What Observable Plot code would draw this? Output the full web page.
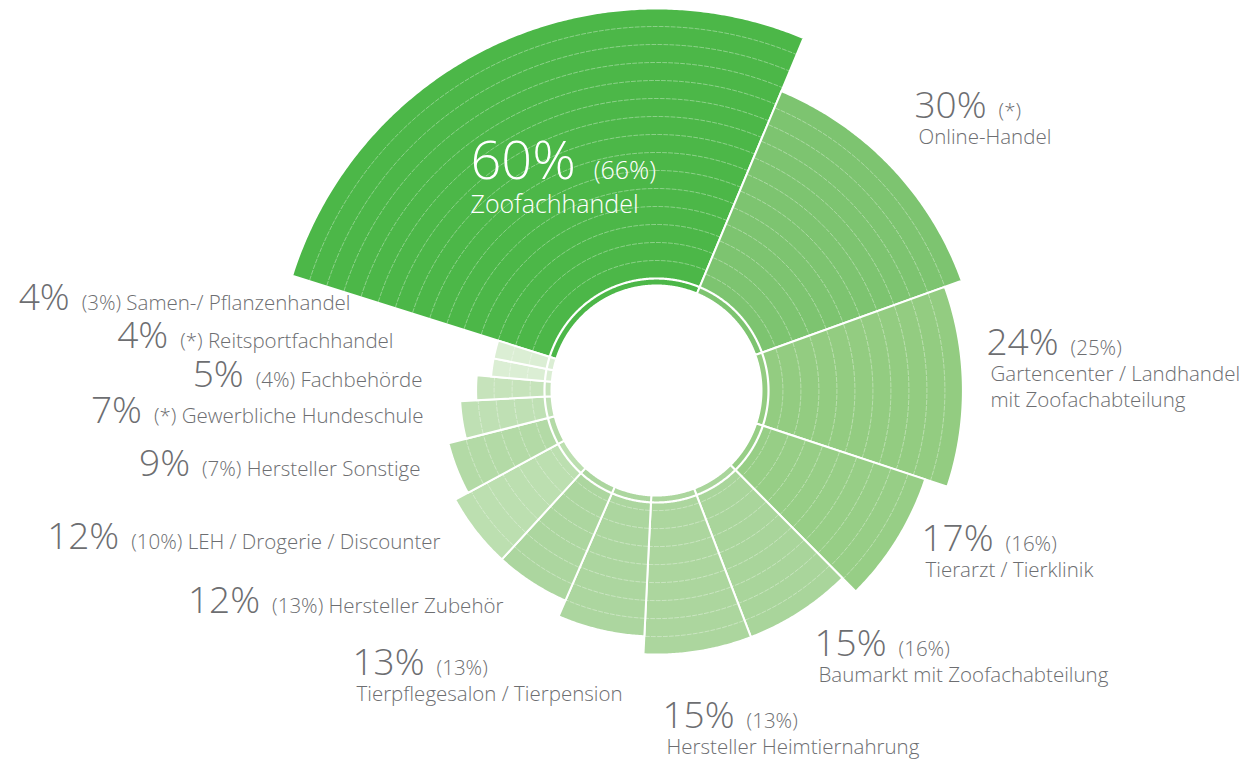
<!DOCTYPE html>
<html><head><meta charset="utf-8">
<script src="https://cdn.jsdelivr.net/npm/d3@7"></script>
<script src="https://cdn.jsdelivr.net/npm/@observablehq/plot@0.6"></script>
<style>
html,body{margin:0;padding:0;background:#fff;}
#chart svg{display:block;}
</style></head><body><div id="chart"></div>
<script>
// ---- data (clockwise, starting with the largest channel) ----
const categories = ["Zoofachhandel","Online-Handel","Gartencenter / Landhandel\nmit Zoofachabteilung","Tierarzt / Tierklinik","Baumarkt mit Zoofachabteilung","Hersteller Heimtiernahrung","Tierpflegesalon / Tierpension","Hersteller Zubehör","LEH / Drogerie / Discounter","Hersteller Sonstige","Gewerbliche Hundeschule","Fachbehörde","Reitsportfachhandel","Samen-/ Pflanzenhandel"];
const shares = [60,30,24,17,15,15,13,12,12,9,7,5,4,4];          // current share, %
const previous = ["66%","*","25%","16%","16%","13%","13%","13%","10%","7%","*","4%","*","3%"]; // value in brackets
const barLength = [15,11.8,10.8,9.5,8.45,8.45,7.45,6.5,6.5,5.7,4.7,3.8,3,3]; // radial length of each sector, in ring units
const palette = ["#4cb748","#7dc470","#93cc81","#97ce86","#a9d59b","#acd69e","#acd69f","#acd69f","#bcdfb0","#b3daa6","#bfe0b4","#c6e3bb","#dbeed4","#dbeed4"];

// ---- layout (pixels) ----
const W = 1255, H = 760, CX = 656, CY = 390;
const START = -72.5;          // angle of first sector edge, degrees clockwise from top
const R_HOLE = 105, R_GAP = 112, R_BASE = 112, RING = 18;
const total = d3.sum(shares);
const rad = d => d * Math.PI / 180;
const polar = (r, a) => ({x: r * Math.sin(rad(a)), y: r * Math.cos(rad(a))});

let cum = 0;
const sectors = categories.map((cat, i) => {
  const a0 = START + cum / total * 360;
  cum += shares[i];
  const a1 = START + cum / total * 360;
  return {cat, i, a0, a1, rOuter: R_BASE + barLength[i] * RING};
});

function arcPts(r, a0, a1) {
  const n = Math.max(2, Math.ceil(Math.abs(a1 - a0) / 0.4));
  return d3.range(n + 1).map(k => polar(r, a0 + (a1 - a0) * k / n));
}
const polys = sectors.flatMap(s => [...arcPts(s.rOuter, s.a0, s.a1), ...arcPts(R_HOLE, s.a1, s.a0)].map(p => ({...p, cat: s.cat})));
const rings = sectors.flatMap(s => {
  const out = [];
  for (let r = s.rOuter - RING, k = 0; r > R_GAP + 5; r -= RING, k++) {
    const pad = 1.2 / r * 180 / Math.PI;
    arcPts(r, s.a0 + pad, s.a1 - pad).forEach(p => out.push({...p, id: s.cat + k}));
  }
  return out;
});
const gapRing = arcPts(R_GAP, 0, 360);

// ---- labels: line 1 = big share + small bracket (+ name if single-line), further lines = name ----
const labelLayout = [
  {x: 470, y: 178, anchor: "start", big: 54, small: 25, lead: 34, color: "#ffffff", inline: false},
  {x: 914, y: 117, anchor: "start", inline: false},
  {x: 986, y: 354, anchor: "start", inline: false},
  {x: 921, y: 550, anchor: "start", inline: false},
  {x: 814, y: 655, anchor: "start", inline: false},
  {x: 662, y: 727, anchor: "start", inline: false},
  {x: 352, y: 674, anchor: "start", inline: false},
  {x: 503, y: 612, anchor: "end", inline: true},
  {x: 440, y: 548, anchor: "end", inline: true},
  {x: 420, y: 475, anchor: "end", inline: true},
  {x: 423, y: 422, anchor: "end", inline: true},
  {x: 422, y: 386, anchor: "end", inline: true},
  {x: 393, y: 347, anchor: "end", inline: true},
  {x: 350, y: 309, anchor: "end", inline: true}
];
const TEXT = "#6d6e71";
const BIG = 37, SMALL = 20.5;
const line1 = [], line2 = [];
sectors.forEach((s, i) => {
  const L = labelLayout[i];
  const big = shares[i] + "%";
  const small = "(" + previous[i] + ")" + (L.inline ? " " + s.cat : "");
  line1.push({x: L.x - CX, y: CY - L.y, anchor: L.anchor, text: big + "¦" + small,
              bigSize: L.big || BIG, smallSize: L.small || SMALL, color: L.color || TEXT});
  if (!L.inline) {
    s.cat.split("\n").forEach((t, j) => {
      line2.push({x: L.x + (L.big ? 0 : 4) - CX, y: CY - L.y - (L.lead || 26) * (j + 1),
                  text: t, size: L.small || SMALL, color: L.color || TEXT});
    });
  }
});

const textMarks = [];
for (const anchor of ["start", "end"]) {
  for (const size of [SMALL, 25]) {
    const rows = line1.filter(d => d.anchor === anchor && d.smallSize === size);
    if (rows.length) textMarks.push(Plot.text(rows, {x: "x", y: "y", text: "text", fill: d => d.color, textAnchor: anchor, lineAnchor: "bottom", fontSize: size, fontWeight: 300}));
  }
}
for (const size of [SMALL, 25]) {
  const rows = line2.filter(d => d.size === size);
  if (rows.length) textMarks.push(Plot.text(rows, {x: "x", y: "y", text: "text", fill: d => d.color, textAnchor: "start", lineAnchor: "bottom", fontSize: size, fontWeight: 300}));
}

const svg = Plot.plot({
  width: W, height: H, margin: 0,
  x: {domain: [-CX, W - CX], axis: null},
  y: {domain: [CY - H, CY], axis: null},
  color: {type: "ordinal", domain: categories, range: palette},
  style: {fontFamily: "'Open Sans', 'Noto Sans', sans-serif", background: "#fff"},
  marks: [
    Plot.line(polys, {x: "x", y: "y", z: "cat", fill: "cat", stroke: "#fff", strokeWidth: 2, curve: "linear-closed"}),
    Plot.line(rings, {x: "x", y: "y", z: "id", stroke: "#fff", strokeOpacity: 0.45, strokeWidth: 0.8, strokeDasharray: "4,2"}),
    Plot.line(gapRing, {x: "x", y: "y", stroke: "#fff", strokeWidth: 2.2}),
    ...textMarks
  ]
});

// mixed font sizes inside the first label line
const bigSize = new Map(line1.map(d => [d.text, d.bigSize]));
const NS = "http://www.w3.org/2000/svg";
svg.querySelectorAll("text").forEach(t => {
  const s = t.textContent;
  if (!s.includes("¦")) return;
  const [big, rest] = s.split("¦");
  while (t.firstChild) t.removeChild(t.firstChild);
  const a = document.createElementNS(NS, "tspan");
  a.setAttribute("font-size", bigSize.get(s));
  a.textContent = big;
  const b = document.createElementNS(NS, "tspan");
  b.setAttribute("dx", bigSize.get(s) > 40 ? "18" : "12");
  b.textContent = rest;
  t.append(a, b);
});
document.getElementById("chart").append(svg);
</script></body></html>
